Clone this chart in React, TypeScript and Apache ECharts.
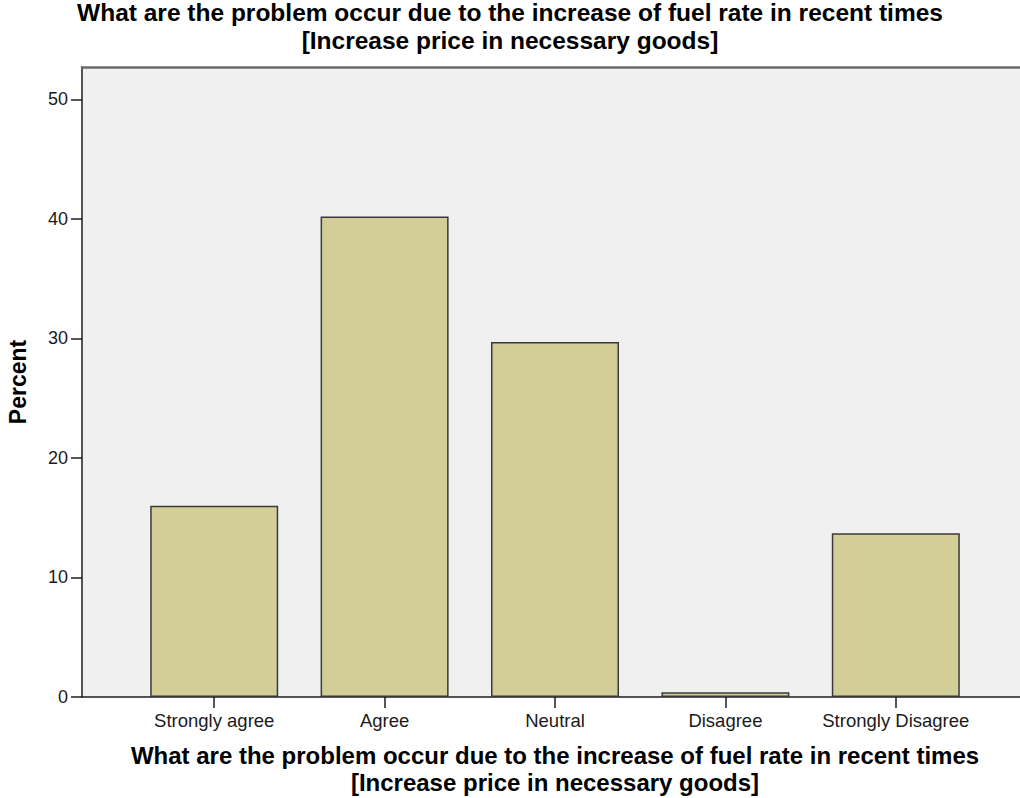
import React, { useEffect, useRef } from "react";
import * as echarts from "echarts";

const categories = ["Strongly agree", "Agree", "Neutral", "Disagree", "Strongly Disagree"];
const percentValues = [16.0, 40.2, 29.7, 0.4, 13.7];
const yMax = 52.7;
const yTicks = [0, 10, 20, 30, 40, 50];
const titleText = "What are the problem occur due to the increase of fuel rate in recent times\n[Increase price in necessary goods]";
const yTitle = "Percent";

export default function App() {
  const ref = useRef<HTMLDivElement>(null);
  useEffect(() => {
    document.body.style.margin = "0";
    const chart = echarts.init(ref.current!, null, { renderer: "svg" });
    const font = "'Liberation Sans', Arial, sans-serif";
    chart.setOption({
      animation: false,
      backgroundColor: "#ffffff",
      title: {
        text: titleText,
        left: "center",
        top: -1,
        padding: 0,
        textStyle: { fontFamily: font, fontWeight: "bold", fontSize: 24.5, lineHeight: 27.5, color: "#000" },
      },
      grid: [
        { left: 82, right: 0, top: 67, bottom: 101, show: true, backgroundColor: "#f0f0f0", borderWidth: 0, containLabel: false, outerBoundsMode: "none" },
        { left: 129, width: 852, top: 67, bottom: 101, containLabel: false, outerBoundsMode: "none" },
      ],
      xAxis: [
        {
          gridIndex: 0, type: "value", min: 0, max: 1, position: "bottom",
          axisLine: { show: true, lineStyle: { color: "#1e1e1e", width: 1.5 } },
          axisTick: { show: false }, axisLabel: { show: false }, splitLine: { show: false },
        },
        {
          gridIndex: 0, type: "value", min: 0, max: 1, position: "top",
          axisLine: { show: true, onZero: false, lineStyle: { color: "#6a6a6a", width: 2.5 } },
          axisTick: { show: false }, axisLabel: { show: false }, splitLine: { show: false },
        },
        {
          gridIndex: 1, type: "category", data: categories, boundaryGap: true,
          axisLine: { show: false },
          axisTick: { show: true, alignWithLabel: true, length: 11, lineStyle: { color: "#1e1e1e", width: 1.5 } },
          axisLabel: { fontFamily: font, fontSize: 18.5, color: "#1a1a1a", margin: 14, interval: 0 },
          name: titleText,
          nameLocation: "middle",
          nameGap: 45,
          nameTextStyle: { fontFamily: font, fontWeight: "bold", fontSize: 24, lineHeight: 27, color: "#000" },
        },
      ],
      yAxis: [
        {
          gridIndex: 0, type: "value", min: 0, max: yMax, interval: 10,
          axisLine: { show: true, lineStyle: { color: "#1e1e1e", width: 1.5 } },
          axisTick: { show: true, length: 11, lineStyle: { color: "#1e1e1e", width: 1.5 } },
          axisLabel: {
            fontFamily: font, fontSize: 18, color: "#1a1a1a", margin: 14,
            showMaxLabel: false,
            formatter: (v: number) => (yTicks.includes(v) ? String(v) : ""),
          },
          splitLine: { show: false },
          name: yTitle,
          nameLocation: "middle",
          nameRotate: 90,
          nameGap: 53,
          nameTextStyle: { fontFamily: font, fontWeight: "bold", fontSize: 23, color: "#000" },
        },
        {
          gridIndex: 1, type: "value", min: 0, max: yMax, show: false,
        },
      ],
      series: [
        {
          type: "bar",
          xAxisIndex: 2,
          yAxisIndex: 1,
          data: percentValues,
          barWidth: 128,
          itemStyle: { color: "#d3ce97", borderColor: "#3a3a3a", borderWidth: 1.5 },
        },
      ],
    });
    return () => chart.dispose();
  }, []);
  return <div ref={ref} style={{ width: 1020, height: 798 }} />;
}
